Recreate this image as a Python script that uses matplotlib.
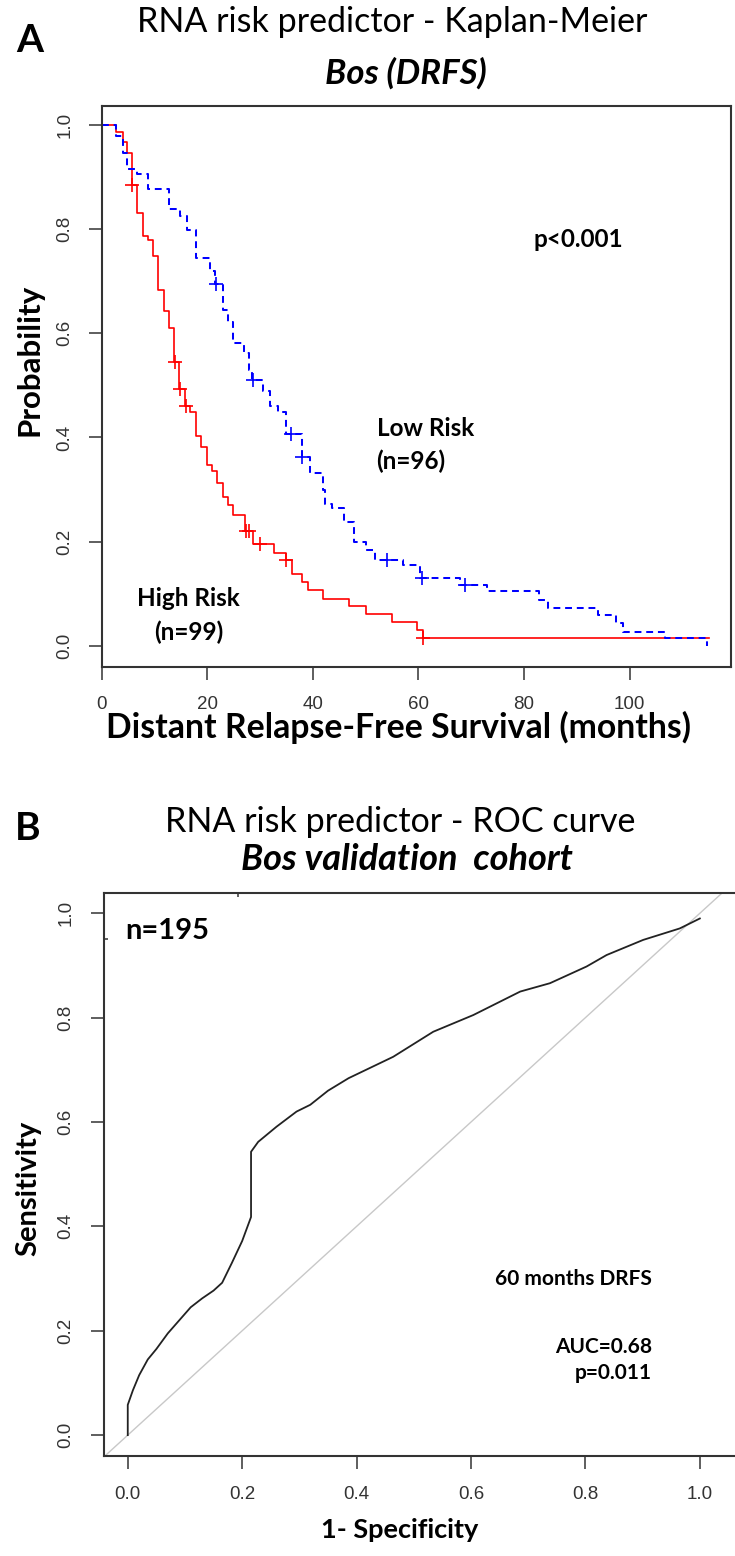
import numpy as np
import matplotlib
matplotlib.use("Agg")
import matplotlib.pyplot as plt

# Kaplan-Meier steps, high risk group (months, survival after the step)
high_t = [0, 2.8, 4.0, 4.85, 5.8, 6.6, 7.9, 8.8, 9.65, 10.7, 11.8, 12.8, 13.76, 14.7, 15.8,
          16.7, 17.9, 18.9, 19.9, 20.8, 21.8, 23.0, 24.0, 24.9, 27.1, 28.7, 32.7, 35.0, 36.0,
          37.9, 39.0, 42.0, 46.9, 50.1, 54.9, 59.8, 60.8, 115]
high_s = [1.0, 0.986, 0.967, 0.946, 0.884, 0.831, 0.787, 0.778, 0.748, 0.682, 0.642, 0.610,
          0.545, 0.492, 0.460, 0.449, 0.402, 0.382, 0.347, 0.335, 0.312, 0.286, 0.270, 0.251,
          0.221, 0.196, 0.179, 0.165, 0.138, 0.123, 0.107, 0.091, 0.076, 0.061, 0.046, 0.031,
          0.015, 0.015]
high_cens = [5.8, 13.9, 14.8, 16.0, 27.4, 27.9, 29.9, 35.0, 60.8]

# low risk group
low_t = [0, 2.7, 4.0, 4.85, 6.6, 8.8, 12.75, 14.8, 16.1, 17.9, 20.6, 21.5, 22.9, 23.9, 24.9,
         26.9, 27.9, 28.5, 30.6, 31.8, 33.3, 34.9, 37.9, 39.5, 41.9, 42.3, 43.7, 45.95, 47.7,
         50.06, 51.8, 57.1, 60.3, 67.9, 72.9, 82.9, 84.5, 94.0, 97.5, 98.8, 106.7, 114.7]
low_s = [1.0, 0.978, 0.946, 0.916, 0.905, 0.877, 0.838, 0.825, 0.798, 0.745, 0.720, 0.694,
         0.645, 0.622, 0.582, 0.562, 0.529, 0.510, 0.490, 0.461, 0.449, 0.407, 0.362, 0.332,
         0.300, 0.273, 0.264, 0.238, 0.200, 0.184, 0.165, 0.155, 0.130, 0.117, 0.1055, 0.088,
         0.0735, 0.0595, 0.0435, 0.0275, 0.0145, 0.0]
low_cens = [21.7, 28.7, 35.9, 37.9, 54.0, 60.6, 68.8]

# ROC curve, 60 months DRFS
roc_fpr = [0, 0, 0.009, 0.02, 0.035, 0.05, 0.07, 0.09, 0.11, 0.13, 0.15, 0.165, 0.182, 0.2,
           0.2155, 0.2155, 0.228, 0.26, 0.295, 0.319, 0.35, 0.386, 0.464, 0.534, 0.604, 0.686,
           0.738, 0.802, 0.837, 0.901, 0.965, 1.0]
roc_tpr = [0, 0.058, 0.086, 0.115, 0.145, 0.165, 0.195, 0.22, 0.245, 0.262, 0.277, 0.292, 0.33,
           0.372, 0.418, 0.543, 0.562, 0.591, 0.620, 0.633, 0.66, 0.684, 0.725, 0.773, 0.805,
           0.850, 0.866, 0.898, 0.920, 0.949, 0.971, 0.99]

W, H = 735, 1556
TXT = "Lato"
TICKFONT = "Liberation Sans"
AXCOL = "#333333"


def px(x, y):
    # pixel position -> figure fraction
    return x / W, 1 - y / H


def surv_at(times, surv, t):
    idx = np.searchsorted(times, t, side="right") - 1
    return np.asarray(surv)[idx]


def style_axes(ax, pad):
    for sp in ax.spines.values():
        sp.set_color(AXCOL)
        sp.set_linewidth(1.5)
    ax.tick_params(length=9.5, width=1.1, color=AXCOL, labelcolor=AXCOL,
                   labelsize=13.5, pad=pad)
    for lab in ax.get_xticklabels() + ax.get_yticklabels():
        lab.set_fontfamily(TICKFONT)
    for lab in ax.get_yticklabels():
        lab.set_rotation(90)
        lab.set_va("center")


fig = plt.figure(figsize=(W / 100, H / 100), dpi=100)

# ---- A: Kaplan-Meier ----
l, b = px(101.7, 667.3)
r, t = px(731, 105.7)
axA = fig.add_axes([l, b, r - l, t - b])
axA.step(high_t, high_s, where="post", color="red", lw=1.2)
axA.step(low_t, low_s, where="post", color="blue", lw=1.45, linestyle=(0, (3.4, 2.4)))
axA.plot(high_cens, surv_at(high_t, high_s, high_cens), "+", color="red", ms=10, mew=1.2)
axA.plot(low_cens, surv_at(low_t, low_s, low_cens), "+", color="blue", ms=10, mew=1.2)
axA.set_xlim(0, 119.2)
axA.set_ylim(-0.041, 1.0365)
axA.set_xticks(np.arange(0, 101, 20))
axA.set_yticks(np.arange(0, 1.01, 0.2))
axA.set_yticklabels([f"{v:.1f}" for v in np.arange(0, 1.01, 0.2)])
style_axes(axA, 11)

lab_kw = dict(fontfamily=TXT, fontweight="bold", fontsize=17.5, va="center")
axA.text(90.2, 0.779, "p<0.001", ha="center", **lab_kw)
axA.text(52.2, 0.4175, "Low Risk", ha="left", **lab_kw)
axA.text(52.0, 0.3535, "(n=96)", ha="left", **lab_kw)
axA.text(16.5, 0.0915, "High Risk", ha="center", **lab_kw)
axA.text(16.5, 0.027, "(n=99)", ha="center", **lab_kw)

fig.text(*px(30, 40), "A", fontfamily=TXT, fontweight="bold", fontsize=28, ha="center", va="center")
fig.text(*px(392, 22), "RNA risk predictor - Kaplan-Meier", fontfamily=TXT, fontsize=24.5,
         ha="center", va="center")
fig.text(*px(406, 73), "Bos (DRFS)", fontfamily=TXT, fontweight="bold", style="italic",
         fontsize=25, ha="center", va="center")
fig.text(*px(30, 360), "Probability", fontfamily=TXT, fontweight="bold", fontsize=22.5,
         rotation=90, ha="center", va="center")
fig.text(*px(398, 727), "Distant Relapse-Free Survival (months)", fontfamily=TXT,
         fontweight="bold", fontsize=24.3, ha="center", va="center")

# ---- B: ROC ----
l, b = px(104.3, 1456)
r, t = px(745.6, 893.3)
axB = fig.add_axes([l, b, r - l, t - b])
axB.axline((0, 0), (1, 1), color="#c8c8c8", lw=1)
axB.plot(roc_fpr, roc_tpr, color="#222222", lw=1.3)
axB.set_xlim(-0.041, 1.08)
axB.set_ylim(-0.040, 1.0383)
axB.set_xticks(np.arange(0, 1.01, 0.2))
axB.set_yticks(np.arange(0, 1.01, 0.2))
axB.set_xticklabels([f"{v:.1f}" for v in np.arange(0, 1.01, 0.2)])
axB.set_yticklabels([f"{v:.1f}" for v in np.arange(0, 1.01, 0.2)])
style_axes(axB, 12)
# small stray ticks inside the frame
axB.set_yticks([0.95], minor=True)
axB.set_xticks([0.192], minor=True)
axB.tick_params(which="minor", direction="in", length=3, width=1.1, color=AXCOL,
                bottom=False, top=True, labelbottom=False, labelleft=False)

axB.text(-0.005, 0.966, "n=195", fontfamily=TXT, fontweight="bold", fontsize=21,
         ha="left", va="center")
stat_kw = dict(fontfamily=TXT, fontweight="bold", fontsize=15, ha="right", va="center")
axB.text(0.916, 0.30, "60 months DRFS", **stat_kw)
axB.text(0.916, 0.169, "AUC=0.68", **stat_kw)
axB.text(0.916, 0.12, "p=0.011", **stat_kw)

fig.text(*px(28, 828), "B", fontfamily=TXT, fontweight="bold", fontsize=28, ha="center", va="center")
fig.text(*px(400, 822), "RNA risk predictor - ROC curve", fontfamily=TXT, fontsize=24.5,
         ha="center", va="center")
fig.text(*px(407, 860), "Bos validation  cohort", fontfamily=TXT, fontweight="bold",
         style="italic", fontsize=26, ha="center", va="center")
fig.text(*px(28, 1188), "Sensitivity", fontfamily=TXT, fontweight="bold", fontsize=21,
         rotation=90, ha="center", va="center")
fig.text(*px(400, 1530), "1- Specificity", fontfamily=TXT, fontweight="bold", fontsize=19.5,
         ha="center", va="center")

fig.savefig("out.png", dpi=100)
